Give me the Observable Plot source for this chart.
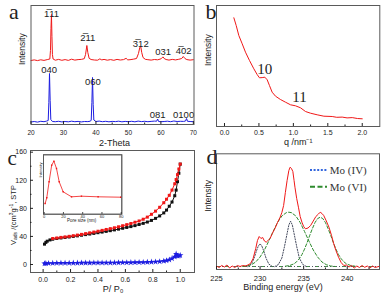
<!DOCTYPE html>
<html><head><meta charset="utf-8">
<script src="https://cdn.jsdelivr.net/npm/d3@7"></script>
<script src="https://cdn.jsdelivr.net/npm/@observablehq/plot@0.6"></script>
<style>
body{margin:0;background:#fff;}
#wrap{position:relative;width:384px;height:293px;overflow:hidden;background:#fff;}
#wrap svg{position:absolute;overflow:visible;}
</style></head><body><div id="wrap"></div>
<script>
// ---------- Panel a : XRD ----------
const xrdRed = [[20,64],[21,64.6],[22,63.9],[23,64.7],[24,64.1],[25,64.9],[25.8,65.5],[26.0,74],[26.15,96],[26.3,110],[26.45,88],[26.6,70],[26.8,65.5],[27.5,64.3],[28.5,65.1],[29.5,64.2],[30.5,64.9],[31.5,64.1],[32.5,65.3],[33.5,64.4],[34.5,64.9],[35.5,65.1],[36.4,65.8],[36.8,70],[37.2,79],[37.5,72],[37.9,66.2],[38.5,65],[39.5,64.5],[40.5,64.3],[41.2,65.6],[41.8,64.6],[42.5,65.1],[43.5,64.3],[44.5,64.9],[45.5,64.2],[46.5,65.1],[47.5,64.5],[48.5,64.9],[49.3,66.2],[49.8,64.6],[50.5,64.8],[51.5,65.3],[52.5,66],[53.1,71],[53.5,77],[53.8,78],[54.1,72],[54.5,67],[55.2,65.2],[56,64.8],[57,64.4],[58,65],[59,64.7],[60,65.6],[60.4,67],[60.7,67.5],[61,66],[61.6,65],[62.5,64.4],[63.5,65.1],[64.5,64.6],[65.5,65.2],[66.4,66],[66.9,68],[67.4,66],[68,64.9],[69,64.4],[70,64.8]];
const xrdBlue = [[20,2.5],[21,3],[22,2.4],[23,3.2],[24,2.8],[24.8,3.4],[25.3,4],[25.5,22],[25.7,51],[25.9,24],[26.1,5],[26.6,3],[27.5,2.8],[28.5,3.2],[29.5,2.6],[30.5,3],[31.5,2.7],[32.5,3.3],[33.5,2.8],[34.5,3.1],[35.5,2.6],[36.5,3],[37.5,2.9],[38.3,3.3],[38.55,4.5],[38.75,22],[38.95,47],[39.15,20],[39.35,4.5],[40,3],[41,3.4],[42,2.8],[43,3.2],[44,2.7],[45,3.1],[46,2.9],[47,3.3],[48,2.7],[49,3.1],[50,2.8],[51,3.2],[52,2.7],[53,3.4],[54,2.9],[55,3.2],[56,2.8],[57,3.1],[58,3.4],[58.7,3.3],[59,5.5],[59.3,3],[60,2.8],[61,3],[62,3.3],[63,2.8],[64,3.5],[65,3],[66,3.2],[67,3.1],[67.6,3.5],[67.9,6],[68.2,3.2],[69,3],[70,2.8]];
const redPeakLabels = ["1\u030511","2\u030511","3\u030512","031","4\u030502"];
const redPeakTheta = [26.3,37.5,53.8,60.7,67.0];
const redPeakLevel = [111,86.5,80.5,72.3,73.7];
const bluePeakLabels = ["040","060","081","0100"];
const bluePeakTheta = [25.6,39.05,59.0,67.0];
const bluePeakLevel = [54.5,42.3,9.3,9.3];
const aTicks = [20,30,40,50,60,70];
const aMinor = [25,35,45,55,65];

// ---------- Panel b : SAXS ----------
const saxs = [[0.136,108.7],[0.17,101],[0.208,91],[0.257,82.7],[0.305,74.3],[0.363,66],[0.426,57.7],[0.474,52],[0.508,48.7],[0.547,48.9],[0.586,49.3],[0.62,46.7],[0.653,41],[0.692,34.3],[0.741,30.3],[0.813,27],[0.886,24.3],[0.959,21.7],[1.031,20.7],[1.104,18.7],[1.176,15],[1.249,13.3],[1.346,11.7],[1.443,10.3],[1.564,10],[1.63,9.2],[1.709,9.4],[1.78,8.6],[1.855,8.9],[1.93,8],[2.0,7.7]];
const saxsLabels = ["10","11"];
const saxsLabelQ = [0.586,1.089];
const saxsLabelI = [57.7,29.3];
const bTicks = [0,0.5,1.0,1.5,2.0];
const bMinor = [0.25,0.75,1.25,1.75];

// ---------- Panel c : N2 isotherms ----------
const isoAds = [[0.01,29],[0.02,31.5],[0.03,33.2],[0.05,35],[0.07,36],[0.1,37],[0.13,37.8],[0.16,38.5],[0.19,39.2],[0.22,40],[0.25,40.8],[0.28,41.7],[0.31,42.6],[0.34,43.4],[0.37,44.3],[0.4,45.3],[0.43,46.2],[0.46,47.2],[0.49,48.2],[0.52,49.3],[0.55,50.4],[0.58,51.6],[0.61,52.8],[0.64,54],[0.67,55.4],[0.7,57],[0.73,58.6],[0.76,60.5],[0.79,62.8],[0.82,65.7],[0.85,69.2],[0.88,73.5],[0.9,77.5],[0.92,83],[0.94,89],[0.96,98],[0.97,106],[0.98,118],[0.99,130],[1.0,143]];
const isoDes = [[1.0,143],[0.99,136],[0.98,128],[0.97,121],[0.96,115],[0.94,106],[0.92,98.5],[0.9,93],[0.88,88],[0.85,81.5],[0.82,76],[0.79,71.5],[0.76,67.5],[0.73,64.5],[0.7,62],[0.67,60.2],[0.64,58.4],[0.61,56.8],[0.58,55.2],[0.55,53.7],[0.52,52.3],[0.49,51.1],[0.46,49.9],[0.43,48.6],[0.4,47.4],[0.37,46.2],[0.34,45.1],[0.31,44],[0.28,42.9],[0.25,41.9],[0.22,41],[0.19,40.1],[0.16,39.3],[0.13,38.6],[0.1,37.8],[0.07,37]];
const isoBlue = [[0.01,1.2],[0.02,1.6],[0.04,1.8],[0.07,1.9],[0.1,2],[0.13,2],[0.16,2.1],[0.19,2.1],[0.22,2.2],[0.25,2.2],[0.28,2.3],[0.31,2.3],[0.34,2.3],[0.37,2.4],[0.4,2.4],[0.43,2.5],[0.46,2.5],[0.49,2.6],[0.52,2.6],[0.55,2.7],[0.58,2.8],[0.61,2.8],[0.64,2.9],[0.67,3],[0.7,3.1],[0.73,3.2],[0.76,3.4],[0.79,3.6],[0.82,3.9],[0.85,4.3],[0.88,5],[0.9,5.7],[0.92,6.8],[0.94,8.5],[0.96,11],[0.97,15],[0.98,12],[0.99,12.5],[1.0,13]];
const cXTicks = [0,0.2,0.4,0.6,0.8,1.0];
const cXMinor = [0.1,0.3,0.5,0.7,0.9];
const cYTicks = [0,40,80,120,160];
const cYMinor = [20,60,100,140];
// inset: pore size distribution
const pore = [[1,10.7],[2.7,16.4],[5.1,32.4],[7.8,49],[10.1,53],[12.8,45.7],[15.6,32.4],[19.7,22.4],[28.4,17.4],[38.7,18],[56,17.4],[79.5,17]];
const insetTicks = [0,20,40,60,80];

// ---------- Panel d : XPS ----------
const xpsRaw = [[225.0,0.5],[225.3,-1],[225.6,1],[225.9,-0.5],[226.2,1.5],[226.5,-1.5],[226.8,0.5],[227.1,-1],[227.4,1],[227.7,0],[228.0,1],[228.3,0.5],[228.6,1.5],[228.9,3],[229.2,8],[229.5,18],[229.7,26],[229.9,30],[230.1,28],[230.3,29],[230.5,25.5],[230.7,24.3],[230.9,26],[231.15,28],[231.4,33],[231.7,38],[232.0,44],[232.3,49.3],[232.5,54],[232.7,61],[232.9,74],[233.1,86],[233.3,96],[233.45,99.3],[233.6,98],[233.76,95],[233.9,86],[234.0,79.3],[234.2,68],[234.4,59.3],[234.6,50],[234.8,44.3],[235.0,40],[235.2,37.7],[235.5,38.5],[235.8,41],[236.1,45.5],[236.4,50],[236.7,52.5],[236.9,54.3],[237.1,53],[237.3,51],[237.6,45.5],[237.9,39.3],[238.2,31],[238.45,22.7],[238.7,16],[239.0,9.3],[239.3,4],[239.6,1],[239.9,1.5],[240.2,-0.5],[240.5,1],[240.8,-1.5],[241.1,0.5],[241.4,-1],[241.7,1],[242.0,-0.8],[242.3,0.5],[242.6,-1.5],[242.9,0.5],[243.2,-1],[243.6,0]];
const moIV_1 = [[228.6,0],[229.0,2.5],[229.3,8],[229.6,16],[229.8,20.5],[230.0,22.7],[230.2,20.5],[230.4,16],[230.7,8],[231.0,2.5],[231.4,0]];
const moIV_2 = [[231.7,0],[232.1,2],[232.5,8.5],[232.8,20],[233.1,33],[233.3,41.5],[233.5,45.3],[233.7,41.5],[233.9,33],[234.2,20],[234.5,8.5],[234.9,2],[235.3,0]];
const moVI_1 = [[228.0,0],[228.5,0.5],[229.0,1.8],[229.5,4.5],[230.0,9.5],[230.5,16.5],[231.0,25.5],[231.5,35],[232.0,44],[232.5,50.5],[233.0,53.8],[233.3,54.3],[233.6,53.8],[234.1,50.5],[234.6,44],[235.1,35],[235.6,25.5],[236.1,16.5],[236.6,9.5],[237.1,4.5],[237.6,1.8],[238.1,0.5],[238.6,0]];
const moVI_2 = [[232.9,0.3],[233.4,1],[233.9,2.7],[234.2,4.8],[234.5,7.8],[234.8,11.9],[235.1,17.4],[235.4,24],[235.7,31.2],[236.0,37.9],[236.3,43.9],[236.6,47.9],[236.9,49.3],[237.2,47.9],[237.5,43.9],[237.8,37.9],[238.1,31.2],[238.4,24],[238.7,17.4],[239.0,11.9],[239.3,7.8],[239.6,4.8],[239.9,2.7],[240.4,1],[240.9,0.3]];
const legendNames = ["Mo (IV)","Mo (VI)"];
const dTicks = [225,230,235,240];
const dMinor = [227.5,232.5,237.5,242.5];

// ---------- drawing ----------
const wrap = document.getElementById("wrap");
const SANS = "Liberation Sans, Arial, sans-serif";
const SERIF = "Liberation Serif, Times New Roman, serif";
const X = d => d[0], Y = d => d[1];
const RED = "#f01818", BLUE = "#1c1ce0", FRAME = "#5a5a5a";

function place(svg, left, top) {
  svg.style.left = left + "px"; svg.style.top = top + "px";
  wrap.appendChild(svg);
  return svg;
}
function baseStyle(extra) {
  return Object.assign({fontFamily: SANS, fontSize: "7px", background: "transparent", color: "#222"}, extra || {});
}

// Panel a
const A = Plot.plot({
  width: 196, height: 146, marginLeft: 30.5, marginRight: 2.5, marginTop: 5, marginBottom: 22,
  x: {domain: [20, 70.2]}, y: {domain: [0, 119], axis: null},
  style: baseStyle(),
  marks: [
    Plot.line(xrdRed, {x: X, y: Y, stroke: RED, strokeWidth: 1}),
    Plot.line(xrdBlue, {x: X, y: Y, stroke: BLUE, strokeWidth: 1}),
    Plot.text(redPeakLabels, {x: (d, i) => redPeakTheta[i], y: (d, i) => redPeakLevel[i], text: d => d, fontSize: 9.5, fill: "#222"}),
    Plot.text(bluePeakLabels, {x: (d, i) => bluePeakTheta[i], y: (d, i) => bluePeakLevel[i], text: d => d, fontSize: 9.5, fill: "#222"}),
    Plot.frame({stroke: FRAME}),
    Plot.axisX(aTicks, {tickSize: -3, tickPadding: 8.5, fontSize: 6.5, label: null}),
    Plot.axisX(aMinor, {tickSize: -1.5, tickFormat: () => "", label: null}),
    Plot.text(["2-Theta"], {frameAnchor: "bottom", dx: 2, dy: 19, lineAnchor: "middle", fontSize: 9}),
    Plot.text(["Intensity"], {frameAnchor: "left", dx: -8.8, rotate: -90, lineAnchor: "middle", fontSize: 8.5}),
    Plot.text(["a"], {frameAnchor: "top-left", dx: -22, dy: 13, lineAnchor: "bottom", fontFamily: SERIF, fontSize: 22})
  ]
});
place(A, 0, 0);

// Panel b
const B = Plot.plot({
  width: 188, height: 146, marginLeft: 20, marginRight: 4.7, marginTop: 5, marginBottom: 20,
  x: {domain: [-0.116, 2.255]}, y: {domain: [0, 121], axis: null},
  style: baseStyle(),
  marks: [
    Plot.line(saxs, {x: X, y: Y, stroke: RED, strokeWidth: 1}),
    Plot.text(saxsLabels, {x: (d, i) => saxsLabelQ[i], y: (d, i) => saxsLabelI[i], text: d => d, fontFamily: SERIF, fontSize: 15, fill: "#222"}),
    Plot.frame({stroke: FRAME}),
    Plot.axisX(bTicks, {tickSize: -3, tickPadding: 6.2, tickFormat: d3.format(".1f"), label: null}),
    Plot.axisX(bMinor, {tickSize: -1.5, tickFormat: () => "", label: null}),
    Plot.text(["q /nm\u207B\u00B9"], {frameAnchor: "bottom", dy: 15.7, lineAnchor: "middle", fontSize: 9}),
    Plot.text(["Intensity"], {frameAnchor: "left", dx: -8.5, rotate: -90, lineAnchor: "middle", fontSize: 8.5}),
    Plot.text(["b"], {frameAnchor: "top-left", dx: -11, dy: 13.3, lineAnchor: "bottom", fontFamily: SERIF, fontSize: 22})
  ]
});
place(B, 196, 0);

// Panel c
const C = Plot.plot({
  width: 196, height: 147, marginLeft: 30, marginRight: 2, marginTop: 4, marginBottom: 21,
  x: {domain: [-0.092, 1.104]}, y: {domain: [-11.4, 162.4]},
  style: baseStyle(),
  marks: [
    Plot.line(isoAds, {x: X, y: Y, stroke: "#111", strokeWidth: 1}),
    Plot.dot(isoAds, {x: X, y: Y, symbol: "square", r: 1.7, fill: "#111"}),
    Plot.line(isoDes, {x: X, y: Y, stroke: RED, strokeWidth: 1}),
    Plot.dot(isoDes, {x: X, y: Y, symbol: "square", r: 1.7, fill: RED}),
    Plot.line(isoBlue, {x: X, y: Y, stroke: BLUE, strokeWidth: 1}),
    Plot.dot(isoBlue, {x: X, y: Y, symbol: "star", r: 2, fill: BLUE}),
    Plot.frame({stroke: FRAME}),
    Plot.axisX(cXTicks, {tickSize: -3, tickPadding: 7.5, tickFormat: d3.format(".1f"), label: null}),
    Plot.axisX(cXMinor, {tickSize: -1.5, tickFormat: () => "", label: null}),
    Plot.axisY(cYTicks, {tickSize: -3, tickPadding: 6.5, label: null}),
    Plot.axisY(cYMinor, {tickSize: -1.5, tickFormat: () => "", label: null}),
    Plot.text(["P/ P\u2080"], {frameAnchor: "bottom", dx: 0.5, dy: 16.3, lineAnchor: "middle", fontSize: 9}),
    Plot.text(["c"], {frameAnchor: "top-left", dx: -23, dy: 14, lineAnchor: "bottom", fontFamily: SERIF, fontSize: 21})
  ]
});
place(C, 0, 146);
{
  const lab = d3.select(C).append("text")
    .attr("transform", "translate(13,69) rotate(-90)")
    .attr("text-anchor", "middle").attr("dy", "0.35em")
    .attr("font-family", SANS).attr("font-size", 7.5).attr("fill", "#222");
  lab.append("tspan").text("V");
  lab.append("tspan").attr("dy", 1.8).attr("font-size", 5).text("ads");
  lab.append("tspan").attr("dy", -1.8).text(" /(cm");
  lab.append("tspan").attr("dy", -2.5).attr("font-size", 5).text("3");
  lab.append("tspan").attr("dy", 2.5).text("g");
  lab.append("tspan").attr("dy", -2.5).attr("font-size", 5).text("-1");
  lab.append("tspan").attr("dy", 2.5).text(", STP");
}

// Inset of c
const I = Plot.plot({
  width: 90, height: 72, marginLeft: 7, marginRight: 4.7, marginTop: 2.3, marginBottom: 10.3,
  x: {domain: [-0.7, 80.6]}, y: {domain: [0, 59.4], axis: null},
  style: baseStyle({fontSize: "4px"}),
  marks: [
    Plot.frame({fill: "white", stroke: FRAME}),
    Plot.line(pore, {x: X, y: Y, stroke: RED, strokeWidth: 0.8}),
    Plot.dot(pore, {x: X, y: Y, symbol: "square", r: 0.8, fill: RED}),
    Plot.frame({stroke: FRAME, strokeWidth: 0.8}),
    Plot.axisX(insetTicks, {tickSize: -1.5, tickPadding: 2.4, label: null, fontSize: 4}),
    Plot.text(["Pore size (nm)"], {frameAnchor: "bottom", dx: -1, dy: 6, lineAnchor: "middle", fontSize: 4.5}),
    Plot.text(["Intensity"], {frameAnchor: "left", dx: -3, dy: -7, rotate: -90, lineAnchor: "middle", fontSize: 4})
  ]
});
place(I, 36, 152);

// Panel d
const D = Plot.plot({
  width: 188, height: 147, marginLeft: 20, marginRight: 5, marginTop: 7.3, marginBottom: 24,
  x: {domain: [225, 243.7]}, y: {domain: [-3, 112.7], axis: null},
  style: baseStyle(),
  marks: [
    Plot.ruleY([0], {stroke: "#2e8b2e", strokeDasharray: "4,2,1,2", strokeWidth: 0.9}),
    Plot.ruleY([0], {stroke: "#556", strokeDasharray: "1,2", strokeWidth: 0.9}),
    Plot.line(moIV_1, {x: X, y: Y, stroke: "#444a5e", strokeWidth: 1, strokeDasharray: "1.2,1.5"}),
    Plot.line(moIV_2, {x: X, y: Y, stroke: "#444a5e", strokeWidth: 1, strokeDasharray: "1.2,1.5"}),
    Plot.line(moVI_1, {x: X, y: Y, stroke: "#2e8b2e", strokeWidth: 1, strokeDasharray: "3,2"}),
    Plot.line(moVI_2, {x: X, y: Y, stroke: "#2e8b2e", strokeWidth: 1, strokeDasharray: "3,2"}),
    Plot.line(xpsRaw, {x: X, y: Y, stroke: RED, strokeWidth: 1}),
    Plot.frame({stroke: FRAME}),
    Plot.axisX(dTicks, {tickSize: -3, tickPadding: 9.5, fontSize: 7.5, label: null}),
    Plot.axisX(dMinor, {tickSize: -1.5, tickFormat: () => "", label: null}),
    Plot.text(["Binding energy (eV)"], {frameAnchor: "bottom", dx: -15, dy: 18, lineAnchor: "middle", fontSize: 9}),
    Plot.text(["Intensity"], {frameAnchor: "left", dx: -8.5, rotate: -90, lineAnchor: "middle", fontSize: 8.5}),
    Plot.text([legendNames[0]], {frameAnchor: "top-left", dx: 113.3, dy: 16.7, textAnchor: "start", lineAnchor: "middle", fontFamily: SERIF, fontSize: 11, fill: "#333"}),
    Plot.text([legendNames[1]], {frameAnchor: "top-left", dx: 113.3, dy: 33.4, textAnchor: "start", lineAnchor: "middle", fontFamily: SERIF, fontSize: 11, fill: "#333"}),
    Plot.text(["d"], {frameAnchor: "top-left", dx: -10, dy: 10, lineAnchor: "bottom", fontFamily: SERIF, fontSize: 22})
  ]
});
place(D, 196, 146);
{
  // legend swatches
  const g = d3.select(D);
  const styles = [{stroke: "#3366dd", dash: "2,1.6"}, {stroke: "#2e8b2e", dash: "5,2.5"}];
  legendNames.forEach((name, i) => {
    const y = 24 + i * 16.7;
    g.append("line").attr("x1", 114).attr("x2", 131).attr("y1", y).attr("y2", y)
      .attr("stroke", styles[i].stroke).attr("stroke-width", 2).attr("stroke-dasharray", styles[i].dash);
  });
}
</script></body></html>
